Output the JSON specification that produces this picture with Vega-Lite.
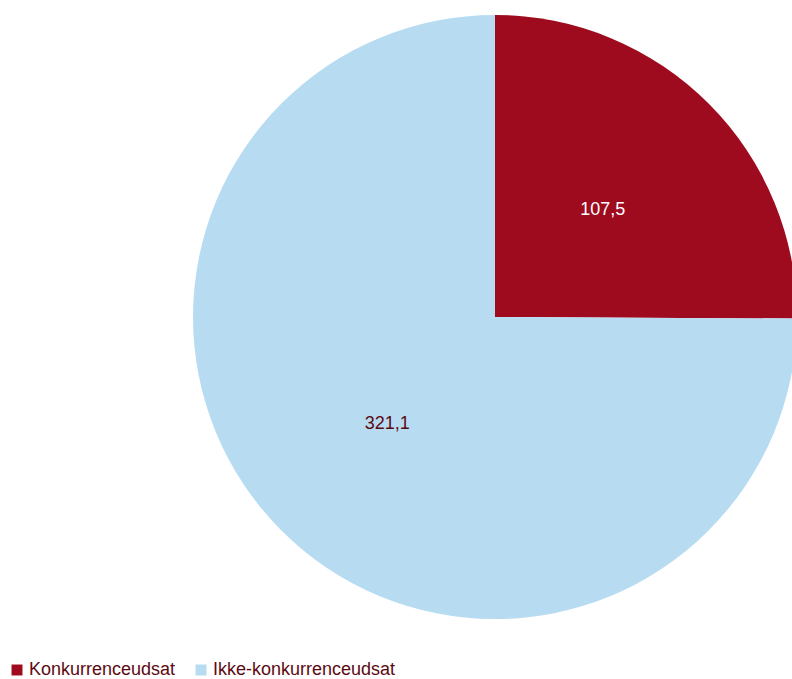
{
  "$schema": "https://vega.github.io/schema/vega-lite/v6.json",
  "width": 604,
  "height": 604,
  "autosize": {"type": "none"},
  "padding": {"left": 193, "top": 15, "right": 0, "bottom": 60},
  "background": "white",
  "config": {
    "view": {"stroke": null},
    "font": "Liberation Sans",
    "locale": {"number": {"decimal": ",", "thousands": ".", "grouping": [3], "currency": ["", " kr."]}}
  },
  "data": {
    "values": [
      {"category": "Konkurrenceudsat", "value": 107.5, "order": 1},
      {"category": "Ikke-konkurrenceudsat", "value": 321.1, "order": 2}
    ]
  },
  "encoding": {
    "theta": {"field": "value", "type": "quantitative", "stack": true},
    "order": {"field": "order", "type": "quantitative"}
  },
  "layer": [
    {
      "mark": {"type": "arc", "outerRadius": 302},
      "encoding": {
        "color": {
          "field": "category",
          "type": "nominal",
          "sort": ["Konkurrenceudsat", "Ikke-konkurrenceudsat"],
          "scale": {"domain": ["Konkurrenceudsat", "Ikke-konkurrenceudsat"], "range": ["#9e0b1f", "#b7dcf2"]},
          "legend": {
            "title": null,
            "orient": "none",
            "direction": "horizontal",
            "legendX": -185,
            "legendY": 646,
            "symbolType": "square",
            "symbolSize": 120,
            "symbolStrokeWidth": 0,
            "labelFontSize": 18,
            "labelLimit": 0,
            "labelColor": "#5c0a12",
            "labelFont": "Liberation Sans",
            "columnPadding": 16,
            "symbolOffset": 0,
            "labelOffset": 3
          }
        }
      }
    },
    {
      "mark": {"type": "text", "radius": 152, "fontSize": 18, "font": "Liberation Sans"},
      "encoding": {
        "text": {"field": "value", "type": "quantitative", "format": ".1f"},
        "color": {
          "condition": {"test": "datum.category === 'Konkurrenceudsat'", "value": "#ffffff"},
          "value": "#5c0a12"
        }
      }
    }
  ]
}
